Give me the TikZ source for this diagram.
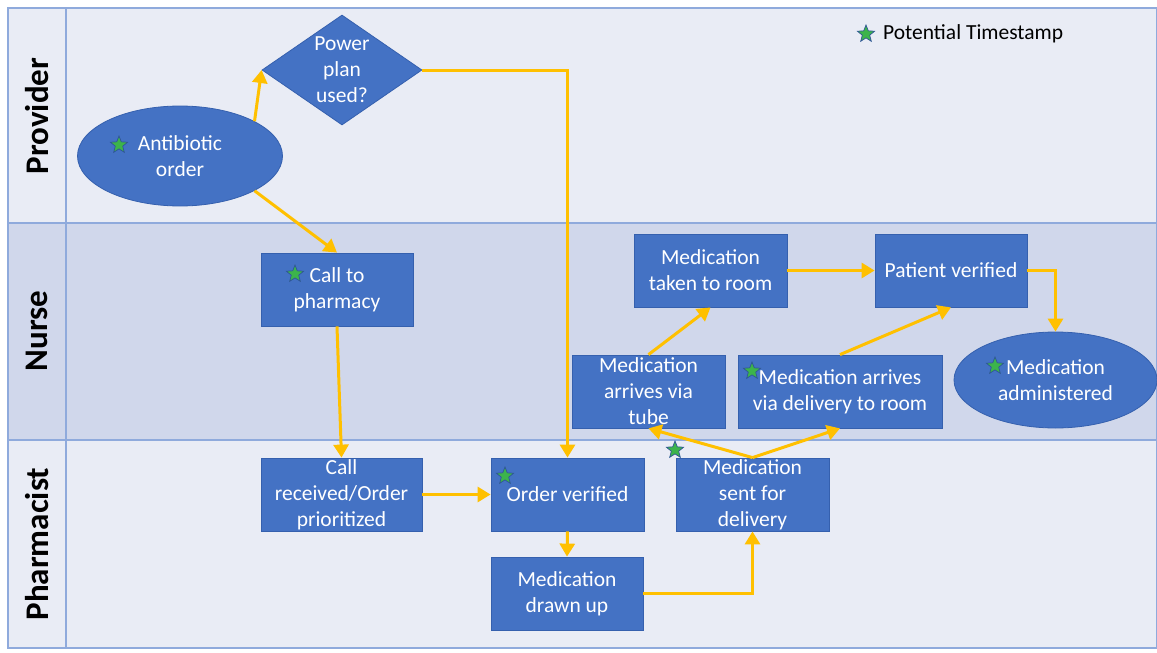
\documentclass[tikz,border=0pt]{standalone}
\usepackage{fontspec}
\setmainfont{Carlito}
\usetikzlibrary{arrows.meta,shapes.geometric,calc}
\definecolor{lanelight}{HTML}{E9ECF5}
\definecolor{lanedark}{HTML}{D0D7EB}
\definecolor{laneline}{HTML}{8FAADC}
\definecolor{boxblue}{HTML}{4472C4}
\definecolor{boxedge}{HTML}{3560AE}
\definecolor{flowyellow}{HTML}{FFC000}
\definecolor{stargreen}{HTML}{3CB44B}
\definecolor{staredge}{HTML}{2F5597}
\tikzset{
  procbox/.style={rectangle, fill=boxblue, draw=boxedge, line width=0.8pt, text=white,
    font=\fontsize{21.5}{26}\selectfont, align=center, inner sep=0pt},
  ovalbox/.style={ellipse, fill=boxblue, draw=boxedge, line width=0.8pt, text=white,
    font=\fontsize{21.5}{26}\selectfont, align=center, inner sep=0pt},
  decbox/.style={diamond, fill=boxblue, draw=boxedge, line width=0.8pt, text=white,
    font=\fontsize{21.5}{26}\selectfont, align=center, inner sep=0pt, aspect=1.45},
  flow/.style={draw=flowyellow, line width=3pt, -{Triangle[length=13pt,width=15pt]}},
  tstar/.style={star, star points=5, star point ratio=2.3, fill=stargreen, draw=staredge,
    line width=0.7pt, minimum size=18pt, inner sep=0pt},
  lanelabel/.style={rotate=90, font=\fontsize{33}{38}\bfseries\selectfont, text=black},
}
\begin{document}
\begin{tikzpicture}[x=1pt,y=-1pt]
\useasboundingbox (0,0) rectangle (1157,653);
\fill[white] (0,0) rectangle (1157,653);
% lanes
\fill[lanelight] (8,8) rectangle (1157,223);
\fill[lanedark] (8,223) rectangle (1157,440);
\fill[lanelight] (8,440) rectangle (1157,648);
\draw[laneline, line width=1.2pt] (8,8) rectangle (1157,648);
\draw[laneline, line width=1.2pt] (8,223) -- (1157,223);
\draw[laneline, line width=1.2pt] (8,440) -- (1157,440);
\draw[laneline, line width=1.2pt] (66,8) -- (66,648);
\node[lanelabel] (lprov) at (37,116) {Provider};
\node[lanelabel] (lnurse) at (37,331) {Nurse};
\node[lanelabel] (lpharm) at (37,544) {Pharmacist};
% legend
\node[tstar] (legstar) at (866,34) {};
\node[anchor=west, font=\fontsize{21.5}{26}\selectfont, inner sep=0pt] (legtext) at (883,34) {Potential Timestamp};
% nodes
\node[ovalbox, minimum width=205pt, minimum height=100pt] (ab) at (180,156) {Antibiotic\\order};
\node[decbox, minimum width=160pt, minimum height=110pt] (pp) at (342,70) {Power\\plan\\used?};
\node[procbox, minimum width=152pt, minimum height=73pt] (call) at (337,289.5) {Call to\\pharmacy};
\node[procbox, minimum width=161pt, minimum height=73pt] (cr) at (341.5,494.5) {Call\\received/Order\\prioritized};
\node[procbox, minimum width=153pt, minimum height=73pt] (ov) at (567.5,494.5) {Order verified};
\node[procbox, minimum width=152pt, minimum height=73pt] (md) at (567,593.5) {Medication\\drawn up};
\node[procbox, minimum width=153pt, minimum height=73pt] (sd) at (752.5,494.5) {Medication\\sent for\\delivery};
\node[procbox, minimum width=153pt, minimum height=73pt] (tube) at (648.5,391.5) {Medication\\arrives via\\tube};
\node[procbox, minimum width=204pt, minimum height=73pt] (dl) at (840,391.5) {Medication arrives\\via delivery to room};
\node[procbox, minimum width=153pt, minimum height=73pt] (tk) at (710.5,270.5) {Medication\\taken to room};
\node[procbox, minimum width=152pt, minimum height=73pt] (pv) at (951,270.5) {Patient verified};
\node[ovalbox, minimum width=203pt, minimum height=96pt] (ma) at (1055.5,380) {Medication\\administered};
% stars
\node[tstar] (s1) at (119,145) {};
\node[tstar] (s2) at (295,274) {};
\node[tstar] (s3) at (505,476) {};
\node[tstar] (s4) at (675,450) {};
\node[tstar] (s5) at (752,371) {};
\node[tstar] (s6) at (995,366) {};
% connectors
\draw[flow] (ab.25) -- (pp.west);
\draw[flow] (ab.-25) -- (call.north);
\draw[flow] (pp.east) -| (ov.north);
\draw[flow] (call.south) -- (cr.north);
\draw[flow] (cr.east) -- (ov.west);
\draw[flow] (ov.south) -- (md.north);
\draw[flow] (md.east) -| (sd.south);
\draw[flow] (sd.north) -- (tube.south);
\draw[flow] (sd.north) -- (dl.south);
\draw[flow] (tube.north) -- (tk.south);
\draw[flow] (dl.north) -- (pv.south);
\draw[flow] (tk.east) -- (pv.west);
\draw[flow] (pv.east) -| (ma.north);
\end{tikzpicture}
\end{document}
